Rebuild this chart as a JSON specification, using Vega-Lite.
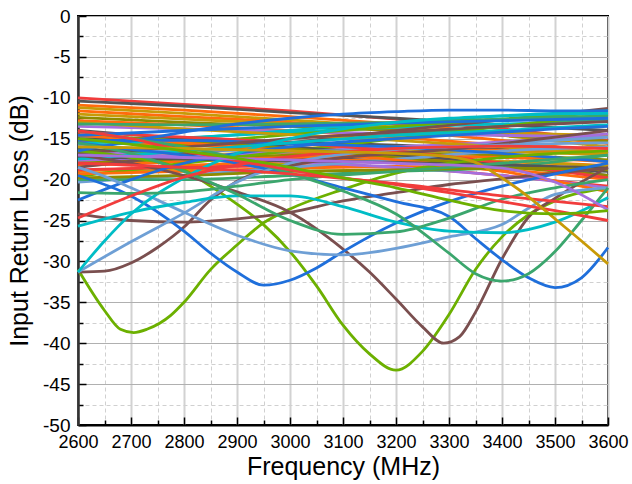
{
"$schema":"https://vega.github.io/schema/vega-lite/v6.json",
"width":530,"height":409,
"autosize":{"type":"none"},
"padding":{"left":78,"top":16,"right":24,"bottom":59},
"background":"white",
"config":{"view":{"stroke":"#000","strokeWidth":2},"font":"Liberation Sans"},
"data":{"values":[
{"s":"b01","f":2600,"v":-10},{"s":"b01","f":2800,"v":-10.8},{"s":"b01","f":3000,"v":-11.6},{"s":"b01","f":3200,"v":-12.6},{"s":"b01","f":3400,"v":-13.8},{"s":"b01","f":3600,"v":-15.2},
{"s":"b02","f":2600,"v":-10.4},{"s":"b02","f":2800,"v":-11},{"s":"b02","f":3000,"v":-11.8},{"s":"b02","f":3200,"v":-12.5},{"s":"b02","f":3400,"v":-13.3},{"s":"b02","f":3600,"v":-14},
{"s":"b03","f":2600,"v":-10.9},{"s":"b03","f":2800,"v":-11.5},{"s":"b03","f":3000,"v":-12.3},{"s":"b03","f":3200,"v":-13.2},{"s":"b03","f":3400,"v":-14.3},{"s":"b03","f":3600,"v":-15.6},
{"s":"b04","f":2600,"v":-11.2},{"s":"b04","f":2800,"v":-11.9},{"s":"b04","f":3000,"v":-12.7},{"s":"b04","f":3200,"v":-13.6},{"s":"b04","f":3400,"v":-14.6},{"s":"b04","f":3600,"v":-16},
{"s":"b05","f":2600,"v":-11.6},{"s":"b05","f":2800,"v":-12.3},{"s":"b05","f":3000,"v":-13},{"s":"b05","f":3200,"v":-14},{"s":"b05","f":3400,"v":-15.2},{"s":"b05","f":3600,"v":-16.8},
{"s":"b06","f":2600,"v":-12},{"s":"b06","f":2800,"v":-12.6},{"s":"b06","f":3000,"v":-13.2},{"s":"b06","f":3200,"v":-13.8},{"s":"b06","f":3400,"v":-14.3},{"s":"b06","f":3600,"v":-14.6},
{"s":"b07","f":2600,"v":-12.4},{"s":"b07","f":2800,"v":-13},{"s":"b07","f":3000,"v":-13.5},{"s":"b07","f":3200,"v":-14},{"s":"b07","f":3400,"v":-14.6},{"s":"b07","f":3600,"v":-15.3},
{"s":"b08","f":2600,"v":-12.8},{"s":"b08","f":2800,"v":-13.3},{"s":"b08","f":3000,"v":-14},{"s":"b08","f":3200,"v":-14.8},{"s":"b08","f":3400,"v":-15.8},{"s":"b08","f":3600,"v":-17},
{"s":"b09","f":2600,"v":-13.5},{"s":"b09","f":2800,"v":-13.8},{"s":"b09","f":3000,"v":-14.1},{"s":"b09","f":3200,"v":-14.4},{"s":"b09","f":3400,"v":-14.6},{"s":"b09","f":3600,"v":-14.8},
{"s":"b10","f":2600,"v":-15},{"s":"b10","f":2800,"v":-15},{"s":"b10","f":3000,"v":-15.4},{"s":"b10","f":3200,"v":-15.8},{"s":"b10","f":3400,"v":-16.3},{"s":"b10","f":3600,"v":-16.8},
{"s":"b11","f":2600,"v":-15.3},{"s":"b11","f":2800,"v":-15.8},{"s":"b11","f":3000,"v":-16.1},{"s":"b11","f":3200,"v":-16.3},{"s":"b11","f":3400,"v":-16.4},{"s":"b11","f":3600,"v":-16.5},
{"s":"b12","f":2600,"v":-15.6},{"s":"b12","f":2800,"v":-14.9},{"s":"b12","f":3000,"v":-14.2},{"s":"b12","f":3200,"v":-13.6},{"s":"b12","f":3400,"v":-13.2},{"s":"b12","f":3600,"v":-12.8},
{"s":"b13","f":2600,"v":-16.3},{"s":"b13","f":2800,"v":-16.8},{"s":"b13","f":3000,"v":-17.3},{"s":"b13","f":3200,"v":-17.7},{"s":"b13","f":3400,"v":-18.3},{"s":"b13","f":3600,"v":-19},
{"s":"b14","f":2600,"v":-17},{"s":"b14","f":2800,"v":-16.5},{"s":"b14","f":3000,"v":-15.5},{"s":"b14","f":3200,"v":-14.5},{"s":"b14","f":3400,"v":-13.5},{"s":"b14","f":3600,"v":-12.5},
{"s":"b15","f":2600,"v":-17.3},{"s":"b15","f":2800,"v":-17},{"s":"b15","f":3000,"v":-16.7},{"s":"b15","f":3200,"v":-16.5},{"s":"b15","f":3400,"v":-16.6},{"s":"b15","f":3600,"v":-17},
{"s":"b16","f":2600,"v":-17.7},{"s":"b16","f":2800,"v":-17.2},{"s":"b16","f":3000,"v":-16.6},{"s":"b16","f":3200,"v":-16},{"s":"b16","f":3400,"v":-15.4},{"s":"b16","f":3600,"v":-14.4},
{"s":"b17","f":2600,"v":-18},{"s":"b17","f":2800,"v":-17.5},{"s":"b17","f":3000,"v":-17},{"s":"b17","f":3200,"v":-16.8},{"s":"b17","f":3400,"v":-17},{"s":"b17","f":3600,"v":-17.6},
{"s":"b18","f":2600,"v":-18.3},{"s":"b18","f":2800,"v":-17.8},{"s":"b18","f":3000,"v":-17.3},{"s":"b18","f":3200,"v":-17.1},{"s":"b18","f":3400,"v":-17.3},{"s":"b18","f":3600,"v":-17.8},
{"s":"b19","f":2600,"v":-19},{"s":"b19","f":2800,"v":-18.3},{"s":"b19","f":3000,"v":-17.8},{"s":"b19","f":3200,"v":-17.6},{"s":"b19","f":3400,"v":-17.8},{"s":"b19","f":3600,"v":-18.3},
{"s":"b20","f":2600,"v":-19.3},{"s":"b20","f":2800,"v":-18.7},{"s":"b20","f":3000,"v":-18},{"s":"b20","f":3200,"v":-17.7},{"s":"b20","f":3400,"v":-17.8},{"s":"b20","f":3600,"v":-18.4},
{"s":"b21","f":2600,"v":-19.6},{"s":"b21","f":2800,"v":-18},{"s":"b21","f":3000,"v":-16.5},{"s":"b21","f":3200,"v":-15},{"s":"b21","f":3400,"v":-13.5},{"s":"b21","f":3600,"v":-12},
{"s":"b22","f":2600,"v":-18.5},{"s":"b22","f":2800,"v":-17},{"s":"b22","f":3000,"v":-15.5},{"s":"b22","f":3200,"v":-14},{"s":"b22","f":3400,"v":-12.7},{"s":"b22","f":3600,"v":-11.3},
{"s":"b23","f":2600,"v":-16},{"s":"b23","f":2800,"v":-15},{"s":"b23","f":3000,"v":-14},{"s":"b23","f":3200,"v":-13},{"s":"b23","f":3400,"v":-12.2},{"s":"b23","f":3600,"v":-11.6},
{"s":"b24","f":2600,"v":-16.8},{"s":"b24","f":2800,"v":-15.6},{"s":"b24","f":3000,"v":-14.5},{"s":"b24","f":3200,"v":-13.5},{"s":"b24","f":3400,"v":-12.6},{"s":"b24","f":3600,"v":-11.8},
{"s":"b25","f":2600,"v":-14},{"s":"b25","f":2800,"v":-15},{"s":"b25","f":3000,"v":-16},{"s":"b25","f":3200,"v":-17},{"s":"b25","f":3400,"v":-18},{"s":"b25","f":3600,"v":-19.5},
{"s":"b26","f":2600,"v":-15.8},{"s":"b26","f":2800,"v":-16.4},{"s":"b26","f":3000,"v":-16.5},{"s":"b26","f":3200,"v":-16.3},{"s":"b26","f":3400,"v":-15.6},{"s":"b26","f":3600,"v":-14.8},
{"s":"b27","f":2600,"v":-14.5},{"s":"b27","f":2800,"v":-15.3},{"s":"b27","f":3000,"v":-16.2},{"s":"b27","f":3200,"v":-17.3},{"s":"b27","f":3400,"v":-18.4},{"s":"b27","f":3600,"v":-19.5},
{"s":"b28","f":2600,"v":-18.8},{"s":"b28","f":2800,"v":-18.5},{"s":"b28","f":3000,"v":-18.3},{"s":"b28","f":3200,"v":-18.5},{"s":"b28","f":3400,"v":-19.5},{"s":"b28","f":3600,"v":-20.8},
{"s":"b29","f":2600,"v":-19.3},{"s":"b29","f":2800,"v":-19},{"s":"b29","f":3000,"v":-18.6},{"s":"b29","f":3200,"v":-18.4},{"s":"b29","f":3400,"v":-18.8},{"s":"b29","f":3600,"v":-20},
{"s":"b30","f":2600,"v":-16.6},{"s":"b30","f":2800,"v":-17.2},{"s":"b30","f":3000,"v":-17.8},{"s":"b30","f":3200,"v":-18.5},{"s":"b30","f":3400,"v":-19.5},{"s":"b30","f":3600,"v":-21},
{"s":"b31","f":2600,"v":-13},{"s":"b31","f":2800,"v":-13.8},{"s":"b31","f":3000,"v":-14.5},{"s":"b31","f":3200,"v":-15.2},{"s":"b31","f":3400,"v":-16},{"s":"b31","f":3600,"v":-16.8},
{"s":"b32","f":2600,"v":-20.3},{"s":"b32","f":2800,"v":-19.5},{"s":"b32","f":3000,"v":-18.5},{"s":"b32","f":3200,"v":-17.5},{"s":"b32","f":3400,"v":-16.5},{"s":"b32","f":3600,"v":-16},
{"s":"b33","f":2600,"v":-14.6},{"s":"b33","f":2800,"v":-15.5},{"s":"b33","f":3000,"v":-16.5},{"s":"b33","f":3200,"v":-17.6},{"s":"b33","f":3400,"v":-19},{"s":"b33","f":3600,"v":-21.5},
{"s":"b34","f":2600,"v":-14.2},{"s":"b34","f":2800,"v":-14.8},{"s":"b34","f":3000,"v":-15.5},{"s":"b34","f":3200,"v":-16.5},{"s":"b34","f":3400,"v":-18},{"s":"b34","f":3600,"v":-19.8},
{"s":"b35","f":2600,"v":-20},{"s":"b35","f":2800,"v":-20},{"s":"b35","f":3000,"v":-19.5},{"s":"b35","f":3200,"v":-19},{"s":"b35","f":3400,"v":-18.5},{"s":"b35","f":3600,"v":-17},
{"s":"b36","f":2600,"v":-15.2},{"s":"b36","f":2800,"v":-15.2},{"s":"b36","f":3000,"v":-15.6},{"s":"b36","f":3200,"v":-16},{"s":"b36","f":3400,"v":-16.8},{"s":"b36","f":3600,"v":-17.8},
{"s":"b37","f":2600,"v":-17.2},{"s":"b37","f":2800,"v":-17.5},{"s":"b37","f":3000,"v":-17.7},{"s":"b37","f":3200,"v":-17.9},{"s":"b37","f":3400,"v":-18.2},{"s":"b37","f":3600,"v":-18.6},
{"s":"b38","f":2600,"v":-19.8},{"s":"b38","f":2800,"v":-19.5},{"s":"b38","f":3000,"v":-19},{"s":"b38","f":3200,"v":-18.8},{"s":"b38","f":3400,"v":-18.6},{"s":"b38","f":3600,"v":-18.8},
{"s":"b39","f":2600,"v":-13.2},{"s":"b39","f":2800,"v":-13.3},{"s":"b39","f":3000,"v":-13.2},{"s":"b39","f":3200,"v":-13},{"s":"b39","f":3400,"v":-12.6},{"s":"b39","f":3600,"v":-12.2},
{"s":"b40","f":2600,"v":-16.7},{"s":"b40","f":2800,"v":-16},{"s":"b40","f":3000,"v":-15},{"s":"b40","f":3200,"v":-14.2},{"s":"b40","f":3400,"v":-13.5},{"s":"b40","f":3600,"v":-12.9},
{"s":"b41","f":2600,"v":-14.6},{"s":"b41","f":2800,"v":-14},{"s":"b41","f":3000,"v":-13.5},{"s":"b41","f":3200,"v":-13.1},{"s":"b41","f":3400,"v":-12.8},{"s":"b41","f":3600,"v":-12.5},
{"s":"b42","f":2600,"v":-17.5},{"s":"b42","f":2800,"v":-16.5},{"s":"b42","f":3000,"v":-15.5},{"s":"b42","f":3200,"v":-14.6},{"s":"b42","f":3400,"v":-14},{"s":"b42","f":3600,"v":-13.3},
{"s":"d01","f":2600,"v":-31},{"s":"d01","f":2650,"v":-36},{"s":"d01","f":2680,"v":-38.3},{"s":"d01","f":2705,"v":-38.7},{"s":"d01","f":2730,"v":-38.3},{"s":"d01","f":2775,"v":-36.6},{"s":"d01","f":2800,"v":-35},{"s":"d01","f":2850,"v":-31},{"s":"d01","f":2900,"v":-28},{"s":"d01","f":2950,"v":-25.3},{"s":"d01","f":3000,"v":-23.6},{"s":"d01","f":3100,"v":-21.2},{"s":"d01","f":3200,"v":-19.2},{"s":"d01","f":3300,"v":-18},{"s":"d01","f":3400,"v":-17.3},{"s":"d01","f":3500,"v":-16.8},{"s":"d01","f":3600,"v":-16.5},
{"s":"d02","f":2600,"v":-16.5},{"s":"d02","f":2700,"v":-17.3},{"s":"d02","f":2800,"v":-18.8},{"s":"d02","f":2850,"v":-20.8},{"s":"d02","f":2900,"v":-23},{"s":"d02","f":2950,"v":-25.5},{"s":"d02","f":3000,"v":-28.8},{"s":"d02","f":3050,"v":-33},{"s":"d02","f":3100,"v":-37.8},{"s":"d02","f":3150,"v":-41.3},{"s":"d02","f":3200,"v":-43.3},{"s":"d02","f":3250,"v":-41},{"s":"d02","f":3300,"v":-36.5},{"s":"d02","f":3350,"v":-31},{"s":"d02","f":3400,"v":-27},{"s":"d02","f":3450,"v":-24.3},{"s":"d02","f":3500,"v":-22.6},{"s":"d02","f":3600,"v":-21},
{"s":"d03","f":2600,"v":-17},{"s":"d03","f":2700,"v":-18},{"s":"d03","f":2800,"v":-19.5},{"s":"d03","f":2900,"v":-21.5},{"s":"d03","f":3000,"v":-24},{"s":"d03","f":3100,"v":-28.5},{"s":"d03","f":3150,"v":-31.3},{"s":"d03","f":3200,"v":-34.6},{"s":"d03","f":3250,"v":-38},{"s":"d03","f":3290,"v":-40},{"s":"d03","f":3320,"v":-39.2},{"s":"d03","f":3350,"v":-36.2},{"s":"d03","f":3400,"v":-29.7},{"s":"d03","f":3450,"v":-24.6},{"s":"d03","f":3500,"v":-22.3},{"s":"d03","f":3550,"v":-20.3},{"s":"d03","f":3600,"v":-18.5},
{"s":"d04","f":2600,"v":-31.3},{"s":"d04","f":2650,"v":-31.2},{"s":"d04","f":2700,"v":-30.2},{"s":"d04","f":2750,"v":-28.3},{"s":"d04","f":2800,"v":-25.8},{"s":"d04","f":2850,"v":-22.5},{"s":"d04","f":2900,"v":-20.2},{"s":"d04","f":3000,"v":-18.3},{"s":"d04","f":3100,"v":-17.3},{"s":"d04","f":3200,"v":-16.8},{"s":"d04","f":3300,"v":-16.3},{"s":"d04","f":3400,"v":-15.6},{"s":"d04","f":3500,"v":-14.8},{"s":"d04","f":3600,"v":-14},
{"s":"d05","f":2600,"v":-24.2},{"s":"d05","f":2700,"v":-25},{"s":"d05","f":2800,"v":-25.2},{"s":"d05","f":2900,"v":-24.8},{"s":"d05","f":3000,"v":-24},{"s":"d05","f":3100,"v":-22.6},{"s":"d05","f":3200,"v":-21.6},{"s":"d05","f":3300,"v":-20.6},{"s":"d05","f":3400,"v":-19.9},{"s":"d05","f":3500,"v":-19.2},{"s":"d05","f":3600,"v":-18.6},
{"s":"d06","f":2600,"v":-19.5},{"s":"d06","f":2700,"v":-22},{"s":"d06","f":2800,"v":-26.3},{"s":"d06","f":2850,"v":-29},{"s":"d06","f":2900,"v":-31.3},{"s":"d06","f":2950,"v":-32.9},{"s":"d06","f":3000,"v":-32.3},{"s":"d06","f":3050,"v":-30.8},{"s":"d06","f":3100,"v":-28.8},{"s":"d06","f":3200,"v":-25.3},{"s":"d06","f":3300,"v":-22.7},{"s":"d06","f":3400,"v":-20.8},{"s":"d06","f":3500,"v":-19.3},{"s":"d06","f":3600,"v":-18},
{"s":"d07","f":2600,"v":-15.5},{"s":"d07","f":2700,"v":-16.3},{"s":"d07","f":2800,"v":-17},{"s":"d07","f":2900,"v":-18},{"s":"d07","f":3000,"v":-19.3},{"s":"d07","f":3100,"v":-21},{"s":"d07","f":3200,"v":-22.7},{"s":"d07","f":3300,"v":-24.5},{"s":"d07","f":3350,"v":-27.2},{"s":"d07","f":3400,"v":-29.8},{"s":"d07","f":3450,"v":-32},{"s":"d07","f":3500,"v":-33.2},{"s":"d07","f":3550,"v":-32},{"s":"d07","f":3600,"v":-28.3},
{"s":"d08","f":2600,"v":-22.5},{"s":"d08","f":2700,"v":-20},{"s":"d08","f":2800,"v":-18},{"s":"d08","f":2900,"v":-16.8},{"s":"d08","f":3000,"v":-16},{"s":"d08","f":3100,"v":-15.4},{"s":"d08","f":3200,"v":-15},{"s":"d08","f":3300,"v":-14.6},{"s":"d08","f":3400,"v":-14.2},{"s":"d08","f":3500,"v":-13.8},{"s":"d08","f":3600,"v":-13.5},
{"s":"d09","f":2600,"v":-16.5},{"s":"d09","f":2700,"v":-15.3},{"s":"d09","f":2800,"v":-14.2},{"s":"d09","f":2900,"v":-13.2},{"s":"d09","f":3000,"v":-12.5},{"s":"d09","f":3100,"v":-12},{"s":"d09","f":3200,"v":-11.7},{"s":"d09","f":3300,"v":-11.5},{"s":"d09","f":3400,"v":-11.5},{"s":"d09","f":3500,"v":-11.6},{"s":"d09","f":3600,"v":-11.6},
{"s":"d10","f":2600,"v":-31.3},{"s":"d10","f":2700,"v":-27.6},{"s":"d10","f":2800,"v":-24.1},{"s":"d10","f":2900,"v":-20.3},{"s":"d10","f":3000,"v":-18},{"s":"d10","f":3100,"v":-16.9},{"s":"d10","f":3200,"v":-16.3},{"s":"d10","f":3300,"v":-16},{"s":"d10","f":3400,"v":-15.8},{"s":"d10","f":3500,"v":-15.6},{"s":"d10","f":3600,"v":-15.5},
{"s":"d11","f":2600,"v":-18.5},{"s":"d11","f":2650,"v":-19.6},{"s":"d11","f":2700,"v":-21},{"s":"d11","f":2800,"v":-24},{"s":"d11","f":2900,"v":-26.8},{"s":"d11","f":3000,"v":-28.7},{"s":"d11","f":3100,"v":-29.2},{"s":"d11","f":3200,"v":-28.4},{"s":"d11","f":3300,"v":-27},{"s":"d11","f":3400,"v":-25.5},{"s":"d11","f":3450,"v":-23.5},{"s":"d11","f":3500,"v":-21.8},{"s":"d11","f":3600,"v":-21},
{"s":"d12","f":2600,"v":-25.7},{"s":"d12","f":2700,"v":-24},{"s":"d12","f":2800,"v":-22.8},{"s":"d12","f":2900,"v":-22},{"s":"d12","f":3000,"v":-22},{"s":"d12","f":3100,"v":-23.3},{"s":"d12","f":3200,"v":-25.2},{"s":"d12","f":3300,"v":-26.3},{"s":"d12","f":3400,"v":-26.5},{"s":"d12","f":3500,"v":-25.2},{"s":"d12","f":3600,"v":-22.2},
{"s":"d13","f":2600,"v":-31.3},{"s":"d13","f":2650,"v":-27.5},{"s":"d13","f":2700,"v":-24.2},{"s":"d13","f":2800,"v":-19.8},{"s":"d13","f":2900,"v":-16.8},{"s":"d13","f":3000,"v":-15},{"s":"d13","f":3100,"v":-13.8},{"s":"d13","f":3200,"v":-13},{"s":"d13","f":3300,"v":-12.5},{"s":"d13","f":3400,"v":-12.2},{"s":"d13","f":3500,"v":-12},{"s":"d13","f":3600,"v":-11.9},
{"s":"d14","f":2600,"v":-14},{"s":"d14","f":2700,"v":-15},{"s":"d14","f":2800,"v":-16},{"s":"d14","f":2900,"v":-17.4},{"s":"d14","f":3000,"v":-19.2},{"s":"d14","f":3100,"v":-21.4},{"s":"d14","f":3200,"v":-24.2},{"s":"d14","f":3300,"v":-29},{"s":"d14","f":3350,"v":-31.5},{"s":"d14","f":3400,"v":-32.4},{"s":"d14","f":3450,"v":-31.5},{"s":"d14","f":3500,"v":-28.8},{"s":"d14","f":3550,"v":-25},{"s":"d14","f":3600,"v":-21},
{"s":"d15","f":2600,"v":-15.5},{"s":"d15","f":2700,"v":-16.8},{"s":"d15","f":2800,"v":-19},{"s":"d15","f":2900,"v":-21.8},{"s":"d15","f":3000,"v":-25},{"s":"d15","f":3100,"v":-26.7},{"s":"d15","f":3200,"v":-26.4},{"s":"d15","f":3300,"v":-24.7},{"s":"d15","f":3400,"v":-22.4},{"s":"d15","f":3500,"v":-21},{"s":"d15","f":3600,"v":-20},
{"s":"d16","f":2600,"v":-21.6},{"s":"d16","f":2700,"v":-21.7},{"s":"d16","f":2800,"v":-21.5},{"s":"d16","f":2900,"v":-20.8},{"s":"d16","f":3000,"v":-20},{"s":"d16","f":3200,"v":-19},{"s":"d16","f":3400,"v":-18},{"s":"d16","f":3600,"v":-17},
{"s":"d17","f":2600,"v":-24.7},{"s":"d17","f":2700,"v":-22},{"s":"d17","f":2800,"v":-19.7},{"s":"d17","f":2900,"v":-18.2},{"s":"d17","f":3000,"v":-17.2},{"s":"d17","f":3100,"v":-16.6},{"s":"d17","f":3200,"v":-16.2},{"s":"d17","f":3300,"v":-16},{"s":"d17","f":3400,"v":-15.9},{"s":"d17","f":3500,"v":-16},{"s":"d17","f":3600,"v":-16.2},
{"s":"d18","f":2600,"v":-14},{"s":"d18","f":2700,"v":-15},{"s":"d18","f":2800,"v":-16.5},{"s":"d18","f":2900,"v":-17.7},{"s":"d18","f":3000,"v":-18.8},{"s":"d18","f":3100,"v":-19.8},{"s":"d18","f":3200,"v":-20.6},{"s":"d18","f":3300,"v":-21.6},{"s":"d18","f":3400,"v":-22.7},{"s":"d18","f":3500,"v":-23.8},{"s":"d18","f":3600,"v":-25},
{"s":"d19","f":2600,"v":-18},{"s":"d19","f":2800,"v":-18.5},{"s":"d19","f":3000,"v":-19.3},{"s":"d19","f":3200,"v":-20.5},{"s":"d19","f":3400,"v":-22},{"s":"d19","f":3600,"v":-23.3},
{"s":"d20","f":2600,"v":-16},{"s":"d20","f":2800,"v":-16.2},{"s":"d20","f":3000,"v":-16.5},{"s":"d20","f":3200,"v":-16.8},{"s":"d20","f":3300,"v":-17.2},{"s":"d20","f":3350,"v":-17.9},{"s":"d20","f":3400,"v":-19.8},{"s":"d20","f":3450,"v":-22.1},{"s":"d20","f":3500,"v":-24.8},{"s":"d20","f":3550,"v":-27.5},{"s":"d20","f":3600,"v":-30.3},
{"s":"d21","f":2600,"v":-17},{"s":"d21","f":2800,"v":-17.3},{"s":"d21","f":3000,"v":-17.6},{"s":"d21","f":3200,"v":-18},{"s":"d21","f":3400,"v":-18.6},{"s":"d21","f":3500,"v":-20.3},{"s":"d21","f":3600,"v":-23.7},
{"s":"d22","f":2600,"v":-15},{"s":"d22","f":2800,"v":-16.5},{"s":"d22","f":3000,"v":-18.5},{"s":"d22","f":3100,"v":-19.8},{"s":"d22","f":3200,"v":-21},{"s":"d22","f":3300,"v":-22.5},{"s":"d22","f":3400,"v":-23.8},{"s":"d22","f":3500,"v":-24.2},{"s":"d22","f":3600,"v":-23.8}
]},
"layer":[
{"mark":{"type":"line","opacity":0},
 "encoding":{
  "x":{"field":"f","type":"quantitative","scale":{"domain":[2600,3600],"nice":false,"zero":false},
   "axis":{"orient":"bottom","values":[2650,2750,2850,2950,3050,3150,3250,3350,3450,3550],"labels":false,"title":null,"domain":false,"tickSize":-5,"tickColor":"#000","tickWidth":1.5,"grid":true,"gridDash":[4,3],"gridColor":"#d0d0d0","gridWidth":1}},
  "y":{"field":"v","type":"quantitative","scale":{"domain":[-50,0],"nice":false,"zero":false},
   "axis":{"orient":"left","values":[-47.5,-42.5,-37.5,-32.5,-27.5,-22.5,-17.5,-12.5,-7.5,-2.5],"labels":false,"title":null,"domain":false,"tickSize":-5,"tickColor":"#000","tickWidth":1.5,"grid":true,"gridDash":[4,3],"gridColor":"#d0d0d0","gridWidth":1}},
  "detail":{"field":"s","type":"nominal"}}},
{"mark":{"type":"line","interpolate":"monotone","strokeWidth":2.8},
 "encoding":{
  "x":{"field":"f","type":"quantitative","scale":{"domain":[2600,3600],"nice":false,"zero":false},
   "axis":{"orient":"bottom","values":[2600,2700,2800,2900,3000,3100,3200,3300,3400,3500,3600],"format":"d","title":"Frequency (MHz)","titleFontSize":25,"titleFontWeight":"normal","titleColor":"#000","titlePadding":3,"labelFontSize":18,"labelColor":"#000","labelPadding":16,"labelFlush":false,"labelOverlap":false,"tickSize":-8,"tickColor":"#000","tickWidth":1.5,"domainColor":"#000","domainWidth":2,"grid":true,"gridColor":"#d2d2d2","gridWidth":2}},
  "y":{"field":"v","type":"quantitative","scale":{"domain":[-50,0],"nice":false,"zero":false},
   "axis":{"orient":"left","values":[-50,-45,-40,-35,-30,-25,-20,-15,-10,-5,0],"labelExpr":"'' + datum.value","title":"Input Return Loss (dB)","titleFontSize":25,"titleFontWeight":"normal","titleColor":"#000","titlePadding":10,"labelFontSize":19,"labelColor":"#000","labelPadding":16,"labelFlush":false,"labelOverlap":false,"tickSize":-8,"tickColor":"#000","tickWidth":1.5,"domainColor":"#333","domainWidth":2.5,"grid":true,"gridColor":"#b0b0b0","gridWidth":1.2}},
  "color":{"field":"s","type":"nominal","legend":null,
   "scale":{"domain":["b01","b02","b03","b04","b05","b06","b07","b08","b09","b10","b11","b12","b13","b14","b15","b16","b17","b18","b19","b20","b21","b22","b23","b24","b25","b26","b27","b28","b29","b30","b31","b32","b33","b34","b35","b36","b37","b38","b39","b40","b41","b42","d01","d02","d03","d04","d05","d06","d07","d08","d09","d10","d11","d12","d13","d14","d15","d16","d17","d18","d19","d20","d21","d22"],
    "range":["#F13C3C","#555555","#FF6C0C","#C89A07","#FF6C0C","#C89A07","#8E8B00","#FF6C0C","#A56FDD","#555555","#FF6C0C","#00BDC6","#555555","#3BA66D","#C89A07","#A56FDD","#8E8B00","#FF6C0C","#FF6C0C","#C89A07","#6CB000","#7A4F4F","#00BDC6","#6CB000","#555555","#6E9FD5","#8E8B00","#F13C3C","#FF6C0C","#A56FDD","#C89A07","#6E9FD5","#FF6C0C","#F13C3C","#3BA66D","#1F6FDB","#555555","#8E8B00","#3BA66D","#7A4F4F","#1F6FDB","#00BDC6","#6CB000","#6CB000","#7A4F4F","#7A4F4F","#7A4F4F","#1F6FDB","#1F6FDB","#1F6FDB","#1F6FDB","#6E9FD5","#6E9FD5","#00BDC6","#00BDC6","#3BA66D","#3BA66D","#3BA66D","#F13C3C","#F13C3C","#F13C3C","#C89A07","#A56FDD","#6CB000"]}}}}
],
"resolve":{"axis":{"x":"independent","y":"independent"}}
}
